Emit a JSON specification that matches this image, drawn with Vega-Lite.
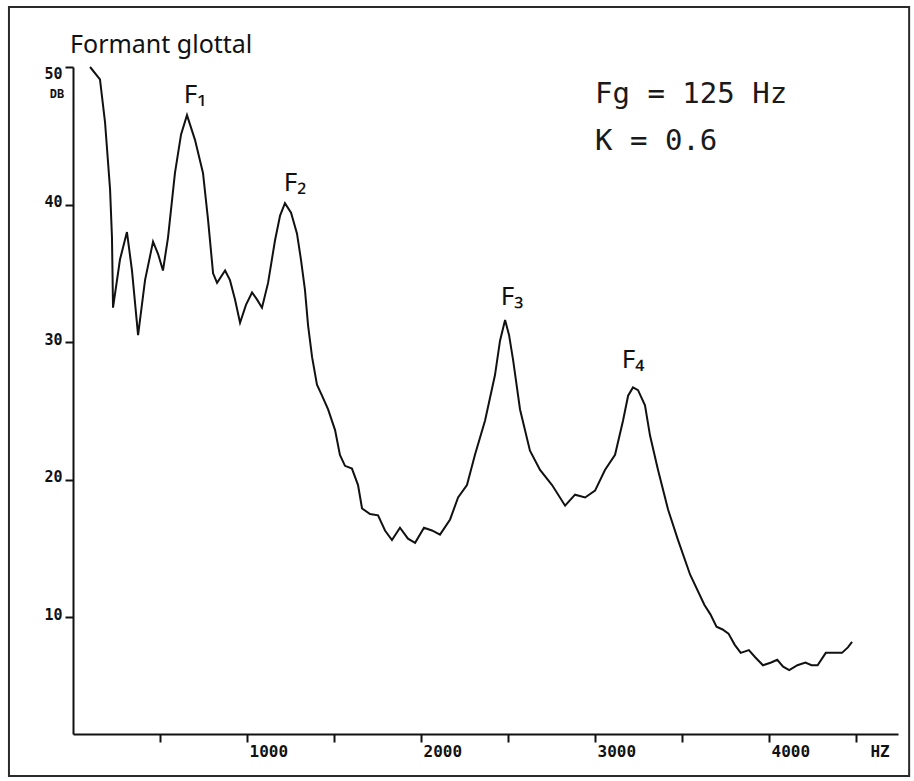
{
  "$schema": "https://vega.github.io/schema/vega-lite/v6.json",
  "autosize": "none",
  "width": 825,
  "height": 667,
  "padding": {"left": 73, "top": 67, "right": 16, "bottom": 47},
  "background": "white",
  "config": {"view": {"stroke": null}},
  "datasets": {
    "curve": [
      {"hz": 98, "db": 50.0}, {"hz": 155, "db": 49.1}, {"hz": 184, "db": 46.0}, {"hz": 213, "db": 41.1},
      {"hz": 224, "db": 37.6}, {"hz": 230, "db": 32.5}, {"hz": 270, "db": 36.0}, {"hz": 310, "db": 38.0},
      {"hz": 339, "db": 35.2}, {"hz": 374, "db": 30.5}, {"hz": 414, "db": 34.5}, {"hz": 460, "db": 37.3},
      {"hz": 489, "db": 36.4}, {"hz": 517, "db": 35.2}, {"hz": 546, "db": 37.6}, {"hz": 586, "db": 42.3},
      {"hz": 621, "db": 45.1}, {"hz": 655, "db": 46.5}, {"hz": 701, "db": 44.7}, {"hz": 747, "db": 42.3},
      {"hz": 776, "db": 38.9}, {"hz": 805, "db": 35.0}, {"hz": 828, "db": 34.3}, {"hz": 874, "db": 35.2},
      {"hz": 902, "db": 34.5}, {"hz": 931, "db": 33.1}, {"hz": 960, "db": 31.4}, {"hz": 994, "db": 32.7},
      {"hz": 1029, "db": 33.6}, {"hz": 1057, "db": 33.1}, {"hz": 1086, "db": 32.5}, {"hz": 1121, "db": 34.3},
      {"hz": 1161, "db": 37.4}, {"hz": 1190, "db": 39.2}, {"hz": 1218, "db": 40.1}, {"hz": 1253, "db": 39.4},
      {"hz": 1287, "db": 37.9}, {"hz": 1310, "db": 36.0}, {"hz": 1333, "db": 33.8}, {"hz": 1351, "db": 31.2},
      {"hz": 1374, "db": 28.9}, {"hz": 1402, "db": 26.9}, {"hz": 1431, "db": 26.1}, {"hz": 1466, "db": 25.1},
      {"hz": 1506, "db": 23.6}, {"hz": 1534, "db": 21.8}, {"hz": 1563, "db": 21.0}, {"hz": 1603, "db": 20.8},
      {"hz": 1638, "db": 19.6}, {"hz": 1661, "db": 17.9}, {"hz": 1707, "db": 17.5}, {"hz": 1753, "db": 17.4},
      {"hz": 1793, "db": 16.3}, {"hz": 1833, "db": 15.6}, {"hz": 1879, "db": 16.5}, {"hz": 1925, "db": 15.7},
      {"hz": 1966, "db": 15.4}, {"hz": 2017, "db": 16.5}, {"hz": 2063, "db": 16.3}, {"hz": 2109, "db": 16.0},
      {"hz": 2167, "db": 17.1}, {"hz": 2213, "db": 18.7}, {"hz": 2264, "db": 19.6}, {"hz": 2310, "db": 21.8},
      {"hz": 2368, "db": 24.3}, {"hz": 2425, "db": 27.6}, {"hz": 2454, "db": 30.1}, {"hz": 2483, "db": 31.6},
      {"hz": 2506, "db": 30.5}, {"hz": 2529, "db": 28.7}, {"hz": 2569, "db": 25.1}, {"hz": 2626, "db": 22.1},
      {"hz": 2684, "db": 20.7}, {"hz": 2753, "db": 19.6}, {"hz": 2828, "db": 18.1}, {"hz": 2885, "db": 18.9},
      {"hz": 2943, "db": 18.7}, {"hz": 3000, "db": 19.2}, {"hz": 3057, "db": 20.7}, {"hz": 3115, "db": 21.8},
      {"hz": 3161, "db": 24.3}, {"hz": 3190, "db": 26.1}, {"hz": 3218, "db": 26.7}, {"hz": 3247, "db": 26.5},
      {"hz": 3287, "db": 25.4}, {"hz": 3316, "db": 23.2}, {"hz": 3362, "db": 20.7}, {"hz": 3420, "db": 17.8},
      {"hz": 3477, "db": 15.6}, {"hz": 3546, "db": 13.1}, {"hz": 3628, "db": 10.9}, {"hz": 3663, "db": 10.2},
      {"hz": 3698, "db": 9.3}, {"hz": 3733, "db": 9.1}, {"hz": 3767, "db": 8.8}, {"hz": 3802, "db": 8.0},
      {"hz": 3837, "db": 7.4}, {"hz": 3884, "db": 7.6}, {"hz": 3919, "db": 7.1}, {"hz": 3965, "db": 6.5},
      {"hz": 4012, "db": 6.7}, {"hz": 4047, "db": 6.9}, {"hz": 4081, "db": 6.4}, {"hz": 4116, "db": 6.15},
      {"hz": 4163, "db": 6.5}, {"hz": 4209, "db": 6.7}, {"hz": 4244, "db": 6.5}, {"hz": 4279, "db": 6.5},
      {"hz": 4326, "db": 7.4}, {"hz": 4372, "db": 7.4}, {"hz": 4419, "db": 7.4}, {"hz": 4453, "db": 7.8},
      {"hz": 4477, "db": 8.2}
    ],
    "frame": [{"x1": -368, "x2": 4805, "y1": -1.56, "y2": 54.36}],
    "hand": [
      {"hz": -17, "db": 51.0, "text": "Formant glottal", "kind": "title"},
      {"hz": 701, "db": 48.0, "text": "F₁", "kind": "formant"},
      {"hz": 1276, "db": 41.6, "text": "F₂", "kind": "formant"},
      {"hz": 2523, "db": 33.3, "text": "F₃", "kind": "formant"},
      {"hz": 3218, "db": 28.7, "text": "F₄", "kind": "formant"}
    ],
    "params": [
      {"hz": 3000, "db": 47.4, "text": "Fg = 125 Hz"},
      {"hz": 3000, "db": 43.96, "text": "K = 0.6"}
    ],
    "units": [
      {"hz": -92, "db": 48.05, "text": "DB", "kind": "db"},
      {"hz": 4638, "db": 0.2, "text": "HZ", "kind": "hz"}
    ]
  },
  "layer": [
    {
      "data": {"name": "frame"},
      "mark": {"type": "rect", "filled": false, "stroke": "#2a2a2a", "strokeWidth": 2},
      "encoding": {
        "x": {"field": "x1", "type": "quantitative", "scale": {"domain": [0, 4741], "nice": false, "zero": false}},
        "x2": {"field": "x2"},
        "y": {"field": "y1", "type": "quantitative", "scale": {"domain": [1.5, 50], "nice": false, "zero": false}},
        "y2": {"field": "y2"}
      }
    },
    {
      "data": {"name": "curve"},
      "mark": {"type": "line", "color": "#111111", "strokeWidth": 2, "interpolate": "linear"},
      "encoding": {
        "x": {
          "field": "hz", "type": "quantitative",
          "scale": {"domain": [0, 4741], "nice": false, "zero": false},
          "axis": {
            "title": null, "grid": false,
            "values": [500, 1000, 1500, 2000, 2500, 3000, 3500, 4000, 4500],
            "labelExpr": "datum.value % 1000 === 0 ? format(datum.value, 'd') : ''",
            "labelAlign": "left", "labelBaseline": "top", "labelPadding": 1, "labelOffset": 2,
            "labelFont": "DejaVu Sans Mono", "labelFontWeight": "bold", "labelFontSize": 16, "labelColor": "#111111",
            "tickSize": 8, "tickWidth": 2, "tickColor": "#111111",
            "domainColor": "#111111", "domainWidth": 2, "labelOverlap": false
          }
        },
        "y": {
          "field": "db", "type": "quantitative",
          "scale": {"domain": [1.5, 50], "nice": false, "zero": false},
          "axis": {
            "title": null, "grid": false,
            "values": [10, 20, 30, 40, 50],
            "format": "d",
            "labelBaseline": "alphabetic",
            "labelOffset": {"condition": {"test": "datum.value == 50", "value": 11}, "value": 2},
            "labelPadding": 3,
            "labelFont": "DejaVu Sans Mono", "labelFontWeight": "bold", "labelFontSize": 15, "labelColor": "#111111",
            "tickSize": 8, "tickWidth": 2, "tickColor": "#111111",
            "domainColor": "#111111", "domainWidth": 2, "labelOverlap": false
          }
        }
      }
    },
    {
      "data": {"name": "hand"},
      "transform": [{"filter": "datum.kind == 'title'"}],
      "mark": {"type": "text", "align": "left", "baseline": "alphabetic", "font": "Noto Sans", "fontSize": 25, "color": "#111111"},
      "encoding": {
        "x": {"field": "hz", "type": "quantitative"},
        "y": {"field": "db", "type": "quantitative"},
        "text": {"field": "text"}
      }
    },
    {
      "data": {"name": "hand"},
      "transform": [{"filter": "datum.kind == 'formant'"}],
      "mark": {"type": "text", "align": "center", "baseline": "middle", "font": "Noto Sans", "fontSize": 26, "color": "#111111"},
      "encoding": {
        "x": {"field": "hz", "type": "quantitative"},
        "y": {"field": "db", "type": "quantitative"},
        "text": {"field": "text"}
      }
    },
    {
      "data": {"name": "params"},
      "mark": {"type": "text", "align": "left", "baseline": "alphabetic", "font": "DejaVu Sans Mono", "fontSize": 29, "color": "#1a1a1a"},
      "encoding": {
        "x": {"field": "hz", "type": "quantitative"},
        "y": {"field": "db", "type": "quantitative"},
        "text": {"field": "text"}
      }
    },
    {
      "data": {"name": "units"},
      "transform": [{"filter": "datum.kind == 'db'"}],
      "mark": {"type": "text", "align": "center", "baseline": "middle", "font": "DejaVu Sans Mono", "fontWeight": "bold", "fontSize": 12, "color": "#111111"},
      "encoding": {
        "x": {"field": "hz", "type": "quantitative"},
        "y": {"field": "db", "type": "quantitative"},
        "text": {"field": "text"}
      }
    },
    {
      "data": {"name": "units"},
      "transform": [{"filter": "datum.kind == 'hz'"}],
      "mark": {"type": "text", "align": "center", "baseline": "middle", "font": "DejaVu Sans Mono", "fontWeight": "bold", "fontSize": 16, "color": "#111111"},
      "encoding": {
        "x": {"field": "hz", "type": "quantitative"},
        "y": {"field": "db", "type": "quantitative"},
        "text": {"field": "text"}
      }
    }
  ]
}
